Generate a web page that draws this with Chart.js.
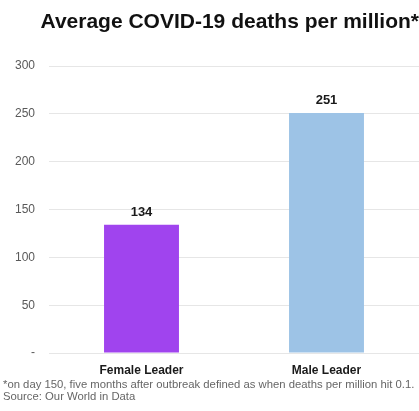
<!DOCTYPE html>
<html>
<head>
<meta charset="utf-8">
<script src="https://cdn.jsdelivr.net/npm/chart.js@4"></script>
<style>
html,body{margin:0;padding:0;background:#fff;}
#wrap{width:419px;height:411px;}
</style>
</head>
<body>
<div id="wrap"><canvas id="c" width="419" height="411"></canvas></div>
<script>
const categories = ['Female Leader', 'Male Leader'];
const deathsPerMillion = [134, 251];
const barColors = ['#A044EE', '#9DC3E6'];
const yTickValues = [0, 50, 100, 150, 200, 250, 300];
const titleText = 'Average COVID-19 deaths per million*';
const footnoteLines = [
  '*on day 150, five months after outbreak defined as when deaths per million hit 0.1.',
  'Source: Our World in Data'
];

const FONT = '"Liberation Sans", Arial, sans-serif';

const valueLabels = {
  id: 'valueLabels',
  afterDatasetsDraw(chart) {
    const ctx = chart.ctx;
    const meta = chart.getDatasetMeta(0);
    ctx.save();
    ctx.font = 'bold 13px ' + FONT;
    ctx.fillStyle = '#1a1a1a';
    ctx.textAlign = 'center';
    ctx.textBaseline = 'alphabetic';
    meta.data.forEach((bar, i) => {
      ctx.fillText(String(deathsPerMillion[i]), bar.x, bar.y - 9);
    });
    ctx.restore();
  }
};

new Chart(document.getElementById('c'), {
  type: 'bar',
  data: {
    labels: categories,
    datasets: [{
      data: deathsPerMillion,
      backgroundColor: barColors,
      borderWidth: 0,
      barPercentage: 0.405,
      categoryPercentage: 1.0
    }]
  },
  options: {
    responsive: false,
    animation: false,
    devicePixelRatio: 1,
    layout: { padding: { left: 3, right: 0, top: 0, bottom: 0 } },
    plugins: {
      legend: { display: false },
      tooltip: { enabled: false },
      title: {
        display: true,
        text: titleText,
        align: 'end',
        color: '#111',
        font: { family: FONT, size: 21, weight: 'bold', lineHeight: 1.2 },
        padding: { top: 10, bottom: 30.8 }
      },
      subtitle: {
        display: true,
        position: 'bottom',
        align: 'start',
        text: footnoteLines,
        color: '#666',
        font: { family: FONT, size: 11.3, lineHeight: 1.06 },
        padding: { top: 2, bottom: 8 }
      }
    },
    scales: {
      x: {
        afterFit(scale) { scale.height = 24; },
        grid: { display: false, drawTicks: false },
        border: { display: false },
        ticks: {
          color: '#1a1a1a',
          padding: 10,
          font: { family: FONT, size: 12, weight: 'bold', lineHeight: 1.2 }
        }
      },
      y: {
        min: 0,
        max: 300,
        afterFit(scale) { scale.width = 46; },
        afterBuildTicks(scale) { scale.ticks = yTickValues.map(v => ({ value: v })); },
        grid: { color: '#e6e6e6', lineWidth: 1, drawTicks: false },
        border: { display: false },
        ticks: {
          color: '#595959',
          padding: 14,
          font: { family: FONT, size: 12 },
          callback: (v) => (v === 0 ? '-' : String(v))
        }
      }
    }
  },
  plugins: [valueLabels]
});
</script>
</body>
</html>
